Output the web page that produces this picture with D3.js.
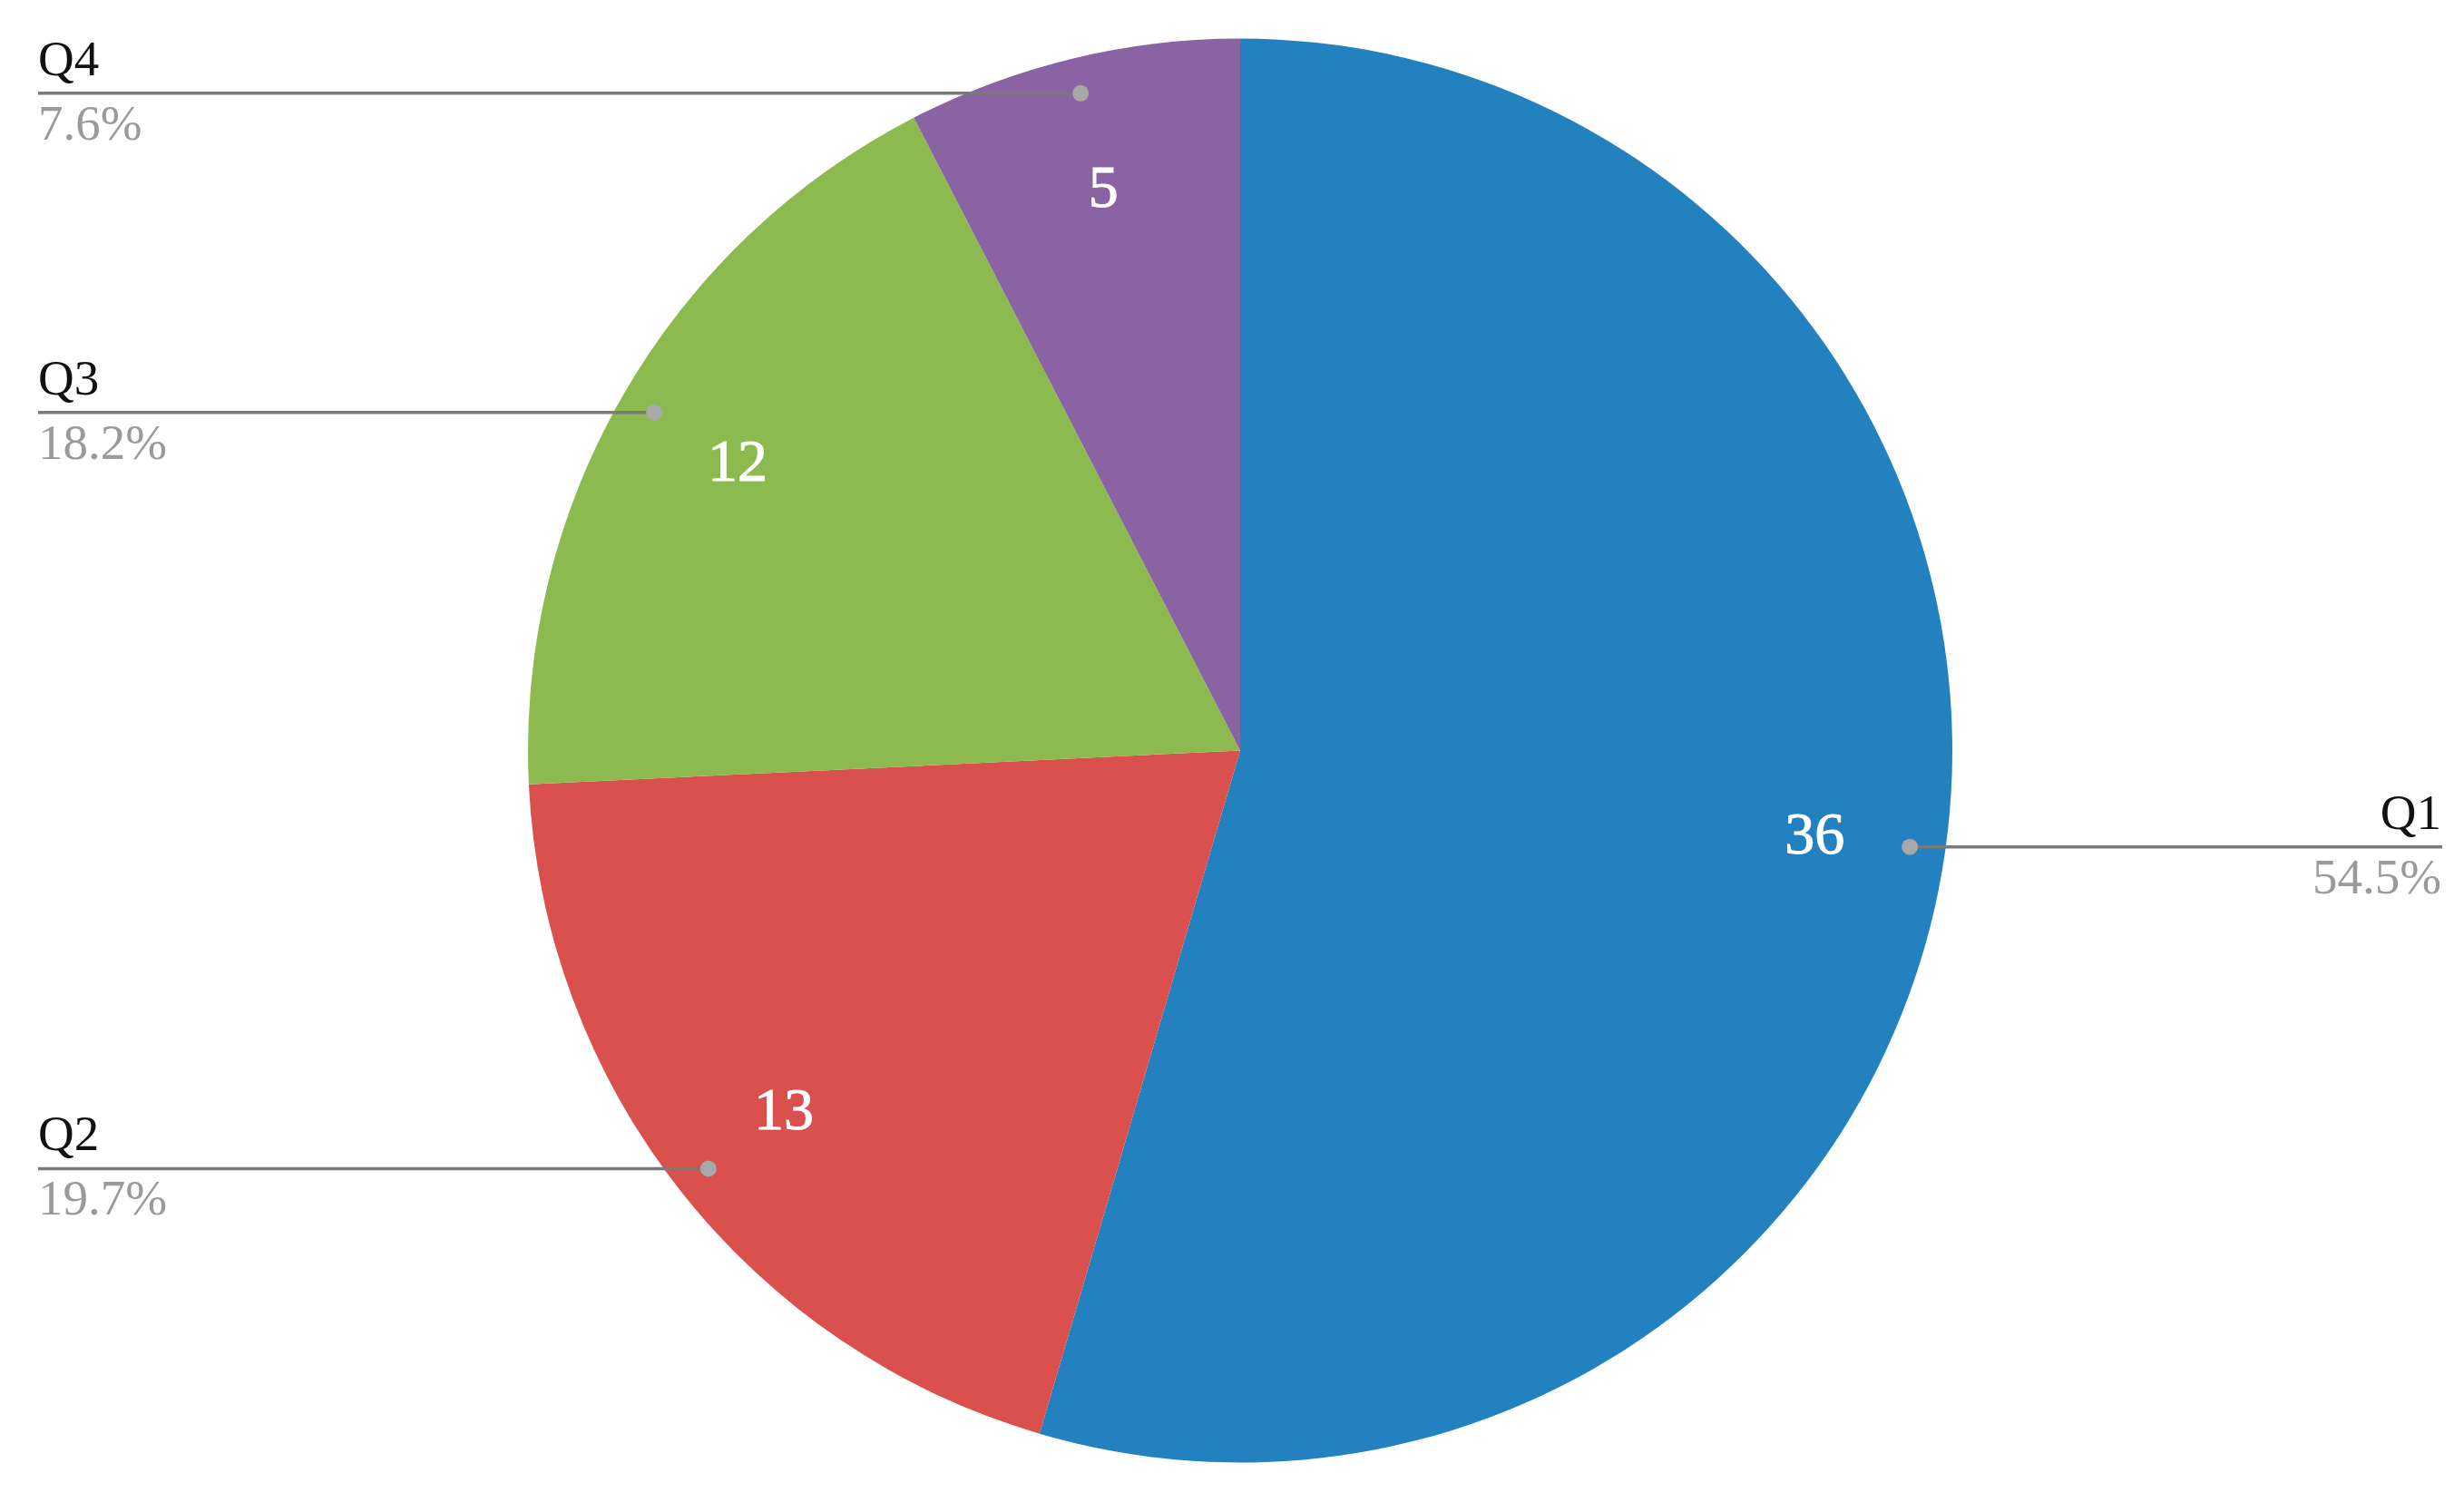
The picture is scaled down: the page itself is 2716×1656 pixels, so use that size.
<!DOCTYPE html>
<html>
<head>
<meta charset="utf-8">
<script src="https://cdn.jsdelivr.net/npm/d3@7"></script>
<style>
  html, body { margin: 0; padding: 0; background: #fff; }
  svg { display: block; }
</style>
</head>
<body>
<svg id="chart" width="2716" height="1656"></svg>
<script>
const categories = ["Q1", "Q2", "Q3", "Q4"];
const values = [36, 13, 12, 5];
const colors = ["#2481bf", "#d9504d", "#8cba4f", "#8a63a2"];

const W = 2716, H = 1656;
const cx = 1367, cy = 827.5, R = 785;
const leftX = 42, rightX = 2692;

const svg = d3.select("#chart");
const g = svg.append("g").attr("transform", `translate(${cx},${cy})`);

const data = categories.map((c, i) => ({ cat: c, value: values[i], color: colors[i] }));
const total = d3.sum(values);

const pie = d3.pie().value(d => d.value).sort(null);
const arcs = pie(data);
const arc = d3.arc().innerRadius(0).outerRadius(R);

g.selectAll("path.slice")
  .data(arcs)
  .join("path")
  .attr("class", "slice")
  .attr("d", arc)
  .attr("fill", d => d.data.color);

const pct = d3.format(".1%");
const font = "'Liberation Serif', 'Times New Roman', serif";

arcs.forEach(a => {
  const mid = (a.startAngle + a.endAngle) / 2;
  const sx = Math.sin(mid), sy = -Math.cos(mid);
  // value label
  const lr = R * 0.815;
  g.append("text")
    .attr("x", lr * sx)
    .attr("y", lr * sy)
    .attr("text-anchor", "middle")
    .attr("dominant-baseline", "central")
    .attr("fill", "#fff")
    .attr("stroke", "#fff")
    .attr("stroke-width", 1)
    .attr("font-family", font)
    .attr("font-size", 66)
    .text(a.data.value);

  // leader
  const dr = R * 0.95;
  const dx = cx + dr * sx, dy = cy + dr * sy;
  const right = sx > 0;
  const endX = right ? rightX : leftX;
  svg.append("line")
    .attr("x1", dx).attr("y1", dy)
    .attr("x2", endX).attr("y2", dy)
    .attr("stroke", "#7a7a7a")
    .attr("stroke-width", 3.5);
  svg.append("circle")
    .attr("cx", dx).attr("cy", dy).attr("r", 9)
    .attr("fill", "#a8a8a8");
  const tx = right ? rightX - 1 : leftX;
  const anchor = right ? "end" : "start";
  svg.append("text")
    .attr("x", tx).attr("y", dy - 20)
    .attr("text-anchor", anchor)
    .attr("fill", "#111")
    .attr("font-family", font)
    .attr("font-size", 55)
    .text(a.data.cat);
  svg.append("text")
    .attr("x", tx).attr("y", dy + 51)
    .attr("text-anchor", anchor)
    .attr("fill", "#9a9a9a")
    .attr("font-family", font)
    .attr("font-size", 55)
    .text(pct(a.data.value / total));
});
</script>
</body>
</html>
